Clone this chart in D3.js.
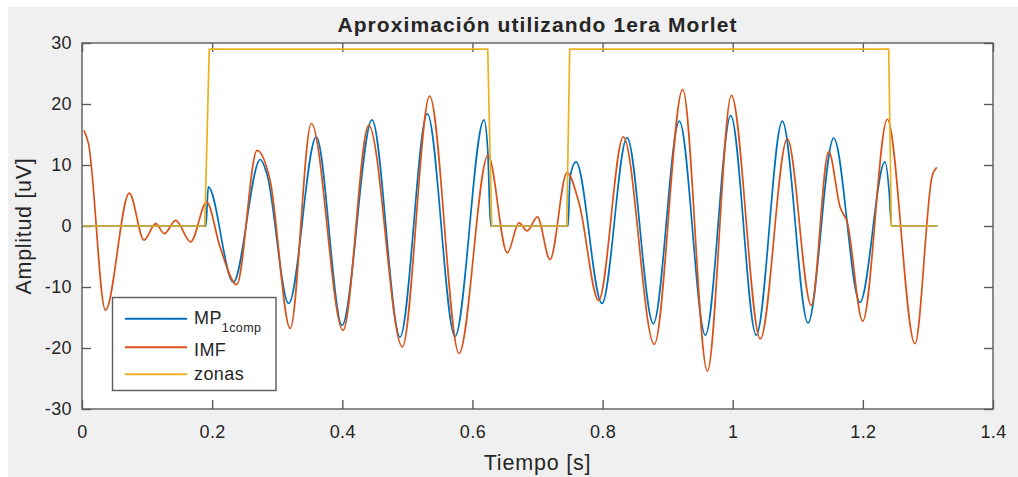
<!DOCTYPE html>
<html>
<head>
<meta charset="utf-8">
<script src="https://cdn.jsdelivr.net/npm/d3@7"></script>
<style>
  html, body { margin: 0; padding: 0; background: #ffffff; }
  svg { display: block; }
  text { font-family: "Liberation Sans", Arial, Helvetica, sans-serif; fill: #262626; }
</style>
</head>
<body>
<svg id="chart" width="1018" height="477"></svg>
<script>
// Time axis (s) and amplitude axis (uV) ticks
const xTicks = [0, 0.2, 0.4, 0.6, 0.8, 1, 1.2, 1.4];
const yTicks = [-30, -20, -10, 0, 10, 20, 30];

// MP (1 component) reconstruction: [time s, amplitude uV]
const mpSeries = [
  [0, 0], [0.1905, 0], [0.194, 6.4], [0.2325, -9.2], [0.274, 10.9], [0.284, 8.6],
  [0.3176, -12.7], [0.360, 14.6], [0.3996, -16.3], [0.4457, 17.4], [0.4887, -18.2],
  [0.5307, 18.4], [0.5732, -18.1], [0.6178, 17.4], [0.6235, 12.5], [0.628, 0],
  [0.747, 0], [0.750, 8.0], [0.7592, 10.5], [0.7991, -12.7], [0.8376, 14.5],
  [0.878, -16.0], [0.918, 17.2], [0.958, -17.9], [0.997, 18.1], [1.0362, -17.9],
  [1.0762, 17.2], [1.1157, -15.9], [1.1552, 14.4], [1.1956, -12.5], [1.234, 10.5],
  [1.2405, 5.5], [1.244, 0], [1.3145, 0]
];

// IMF signal: [time s, amplitude uV]
const imfSeries = [
  [0.003, 15.7], [0.010, 13.5], [0.036, -13.8], [0.0727, 5.4], [0.0953, -2.3],
  [0.1132, 0.4], [0.1265, -1.25], [0.144, 0.93], [0.167, -2.6], [0.1916, 3.9],
  [0.212, -3.4], [0.2377, -9.6], [0.269, 12.4], [0.289, 7.5], [0.320, -16.8],
  [0.3524, 16.8], [0.4011, -17.1], [0.4406, 16.5], [0.4923, -19.8], [0.5343, 21.3],
  [0.5794, -20.9], [0.624, 11.6], [0.6536, -4.4], [0.6716, 0.5], [0.6843, -0.8],
  [0.6997, 1.5], [0.7192, -5.5], [0.7453, 8.75], [0.764, 3.7], [0.794, -12.2],
  [0.8319, 14.6], [0.8795, -19.4], [0.9231, 22.4], [0.961, -23.8], [0.998, 21.4],
  [1.0424, -18.5], [1.0839, 14.3], [1.1208, -13.0], [1.1475, 12.2], [1.165, 3.1],
  [1.176, 0.6], [1.1998, -15.6], [1.2376, 17.5], [1.280, -19.3], [1.3065, 8.2],
  [1.3135, 9.6]
];

// Analysis zones (step signal)
const zoneSeries = [
  [0, 0], [0.1886, 0], [0.1956, 29], [0.6235, 29], [0.6296, 0], [0.7449, 0],
  [0.7495, 29], [1.2397, 29], [1.2438, 0], [1.3145, 0]
];

const seriesNames = ["MP", "IMF", "zonas"];
const seriesColors = ["#0072BD", "#D95319", "#EDB120"];

const svg = d3.select("#chart");
const W = 1018, H = 477;
const plot = { left: 82, right: 993, top: 43, bottom: 409 };

// figure background
svg.append("rect").attr("x", 8).attr("y", 7).attr("width", W - 8).attr("height", H - 7)
  .attr("fill", "#f0f0f0");

const x = d3.scaleLinear().domain([0, 1.4]).range([plot.left, plot.right]);
const y = d3.scaleLinear().domain([-30, 30]).range([plot.bottom, plot.top]);

// axes area
svg.append("rect")
  .attr("x", plot.left).attr("y", plot.top)
  .attr("width", plot.right - plot.left).attr("height", plot.bottom - plot.top)
  .attr("fill", "#ffffff");

const fmt = d => String(d);
const axisColor = "#5c5c5c";

function styleAxis(g) {
  g.select(".domain").remove();
  g.selectAll(".tick line").attr("stroke", axisColor).attr("stroke-width", 1.4);
  g.selectAll(".tick text").attr("font-size", 18).attr("fill", "#3a3a3a")
    .attr("letter-spacing", 0.4)
    .attr("font-family", "'Liberation Sans', Arial, Helvetica, sans-serif");
}

svg.append("g").attr("transform", `translate(0,${plot.bottom})`)
  .call(d3.axisBottom(x).tickValues(xTicks).tickFormat(fmt).tickSizeInner(-9).tickSizeOuter(0).tickPadding(16))
  .call(styleAxis);
svg.append("g").attr("transform", `translate(0,${plot.top})`)
  .call(d3.axisTop(x).tickValues(xTicks).tickFormat("").tickSizeInner(-9).tickSizeOuter(0))
  .call(styleAxis);
svg.append("g").attr("transform", `translate(${plot.left},0)`)
  .call(d3.axisLeft(y).tickValues(yTicks).tickFormat(fmt).tickSizeInner(-9).tickSizeOuter(0).tickPadding(10))
  .call(styleAxis);
svg.append("g").attr("transform", `translate(${plot.right},0)`)
  .call(d3.axisRight(y).tickValues(yTicks).tickFormat("").tickSizeInner(-9).tickSizeOuter(0))
  .call(styleAxis);

// data lines
const smooth = d3.line().x(d => x(d[0])).y(d => y(d[1])).curve(d3.curveMonotoneX);
const step = d3.line().x(d => x(d[0])).y(d => y(d[1]));

const lineW = 1.7;
svg.append("path").datum(mpSeries).attr("d", smooth)
  .attr("fill", "none").attr("stroke", seriesColors[0]).attr("stroke-width", lineW);
svg.append("path").datum(imfSeries).attr("d", smooth)
  .attr("fill", "none").attr("stroke", seriesColors[1]).attr("stroke-width", lineW);
svg.append("path").datum(zoneSeries).attr("d", step)
  .attr("fill", "none").attr("stroke", seriesColors[2]).attr("stroke-width", lineW)
  .attr("stroke-linejoin", "round");

// axes box
svg.append("rect")
  .attr("x", plot.left).attr("y", plot.top)
  .attr("width", plot.right - plot.left).attr("height", plot.bottom - plot.top)
  .attr("fill", "none").attr("stroke", axisColor).attr("stroke-width", 1.4);

// title and axis labels
svg.append("text").attr("x", (plot.left + plot.right) / 2).attr("y", 32)
  .attr("text-anchor", "middle").attr("font-size", 21).attr("font-weight", "bold")
  .attr("letter-spacing", 1.1).attr("fill", "#111")
  .text("Aproximación utilizando 1era Morlet");
svg.append("text").attr("x", (plot.left + plot.right) / 2).attr("y", 470)
  .attr("text-anchor", "middle").attr("font-size", 21.5).attr("fill", "#3a3a3a")
  .attr("letter-spacing", 0.8)
  .text("Tiempo [s]");
svg.append("text")
  .attr("transform", `translate(31,${(plot.top + plot.bottom) / 2}) rotate(-90)`)
  .attr("text-anchor", "middle").attr("font-size", 21.5).attr("fill", "#3a3a3a")
  .attr("letter-spacing", 0.7)
  .text("Amplitud [uV]");

// legend
const lg = svg.append("g");
lg.append("rect").attr("x", 112.5).attr("y", 297.5).attr("width", 163.5).attr("height", 93)
  .attr("fill", "#ffffff").attr("stroke", axisColor).attr("stroke-width", 1.4);
const rows = [318.7, 347.3, 374.3];
const baselines = [324, 355.5, 380];
rows.forEach((ry, i) => {
  lg.append("line").attr("x1", 125).attr("x2", 187).attr("y1", ry).attr("y2", ry)
    .attr("stroke", seriesColors[i]).attr("stroke-width", 2);
  const t = lg.append("text").attr("x", 194).attr("y", baselines[i]).attr("font-size", 18)
    .attr("letter-spacing", 0.4).attr("fill", "#262626");
  t.append("tspan").text(seriesNames[i]);
  if (i === 0) {
    t.append("tspan").attr("font-size", 12.5).attr("dy", 7.5).text("1comp");
  }
});
</script>
</body>
</html>
